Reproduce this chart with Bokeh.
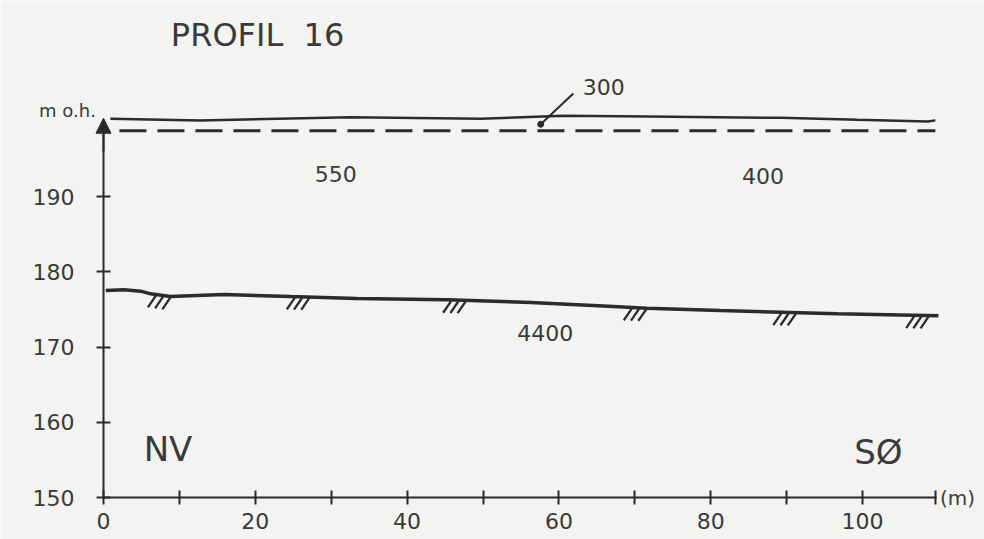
from bokeh.plotting import figure
from bokeh.models import Range1d, FixedTicker, Arrow, NormalHead, LinearAxis
from bokeh.core.properties import value
from bokeh.embed import file_html
from bokeh.resources import INLINE
import numpy as np

# ---------------- data ----------------
surf_x = [0.9, 12.8, 32.5, 49.7, 60.6, 71.7, 89.2, 99.3, 108.6, 109.6]
surf_y = [200.33, 200.10, 200.55, 200.35, 200.72, 200.63, 200.46, 200.19, 199.97, 200.12]

wt_x = [2.1, 109.6]
wt_y = [198.75, 198.75]

bed_x = [0.3, 2.7, 4.9, 6.2, 8.8, 15.9, 24.6, 33.4, 45.3, 56.3, 67.2, 71.6, 81.3, 96.7, 110.0]
bed_y = [177.51, 177.60, 177.42, 177.07, 176.71, 176.98, 176.71, 176.45, 176.27,
         175.91, 175.38, 175.16, 174.85, 174.41, 174.15]

hatch_x = [7.3, 25.6, 46.2, 70.0, 89.7, 107.2]

layer_labels = ["300", "550", "400", "4400"]
layer_x = [65.9, 30.6, 86.9, 58.2]
layer_y = [204.6, 193.0, 192.7, 171.8]

x_ticks = [0, 20, 40, 60, 80, 100]
x_minor = [10, 30, 50, 70, 90, 109.6]
y_ticks = [150, 160, 170, 180, 190]

FONT = "DejaVu Sans"
INK = "#2b2b2b"
TXT = "#3a3a3a"
PAPER = "#f3f3f1"

p = figure(width=984, height=539, output_backend="svg", toolbar_location=None,
           x_range=Range1d(-13.57, 116.07), y_range=Range1d(144.42, 216.05),
           x_axis_type=None, y_axis_type=None,
           min_border_left=0, min_border_right=0, min_border_top=0, min_border_bottom=0)
p.background_fill_color = PAPER
p.border_fill_color = PAPER
p.outline_line_color = None
p.grid.visible = False

# axes (drawn through the origin 0 m / 150 m o.h.)
xa = LinearAxis(ticker=FixedTicker(ticks=x_ticks, minor_ticks=x_minor), bounds=(0, 109.7),
                fixed_location=150)
xa.axis_line_width = 2
xa.axis_line_color = INK
xa.major_tick_line_color = INK
xa.major_tick_line_width = 2
xa.major_tick_in = 7
xa.major_tick_out = 7
xa.minor_tick_line_color = INK
xa.minor_tick_line_width = 2
xa.minor_tick_in = 7
xa.minor_tick_out = 7
xa.major_label_text_font = FONT
xa.major_label_text_font_size = "22px"
xa.major_label_text_color = TXT
xa.major_label_standoff = 8
p.add_layout(xa, "below")

ya = LinearAxis(ticker=FixedTicker(ticks=y_ticks, minor_ticks=[]), bounds=(150, 200),
                fixed_location=0)
ya.axis_line_width = 2
ya.axis_line_color = INK
ya.major_tick_line_color = INK
ya.major_tick_line_width = 2
ya.major_tick_in = 7
ya.major_tick_out = 7
ya.major_label_text_font = FONT
ya.major_label_text_font_size = "22px"
ya.major_label_text_color = TXT
ya.major_label_standoff = 22
p.add_layout(ya, "left")

p.add_layout(Arrow(end=NormalHead(size=15, fill_color=INK, line_color=INK),
                   x_start=0, y_start=196, x_end=0, y_end=200.4,
                   line_color=INK, line_width=2))

# surface, water table, bedrock
p.line(surf_x, surf_y, line_color=INK, line_width=2.5)
p.line(wt_x, wt_y, line_color=INK, line_width=3, line_dash="27 11")
p.line(bed_x, bed_y, line_color=INK, line_width=3.5)

# bedrock hatches
hx0, hy0, hx1, hy1 = [], [], [], []
for c in hatch_x:
    for k in (-1, 0, 1):
        tx = c + k * 0.95 + 0.55
        ty = float(np.interp(tx, bed_x, bed_y)) - 0.15
        hx0.append(tx); hy0.append(ty)
        hx1.append(tx - 1.05); hy1.append(ty - 1.55)
p.segment(hx0, hy0, hx1, hy1, line_color=INK, line_width=2.3)

# leader for 300
p.segment([61.9], [203.7], [57.6], [199.6], line_color=INK, line_width=2)
p.scatter([57.6], [199.6], size=6, color=INK)

# layer velocity labels
p.text(layer_x, layer_y, text=layer_labels, text_font=value(FONT), text_font_size="22px",
       text_align="center", text_baseline="middle", text_color=TXT)

# other text
p.text([20.3], [211.5], text=["PROFIL\u00a0\u00a016"], text_font=value(FONT), text_font_size="32px",
       text_align="center", text_baseline="middle", text_color=TXT)
p.text([-1.0], [201.4], text=["m o.h."], text_font=value(FONT), text_font_size="18px",
       text_align="right", text_baseline="middle", text_color=TXT)
p.text([8.5], [156.5], text=["NV"], text_font=value(FONT), text_font_size="34px",
       text_align="center", text_baseline="middle", text_color=TXT)
p.text([102.1], [156.05], text=["SØ"], text_font=value(FONT), text_font_size="34px",
       text_align="center", text_baseline="middle", text_color=TXT)
p.text([110.2], [150.0], text=["(m)"], text_font=value(FONT), text_font_size="20px",
       text_align="left", text_baseline="middle", text_color=TXT)

open("out.html", "w").write(file_html(p, INLINE))
